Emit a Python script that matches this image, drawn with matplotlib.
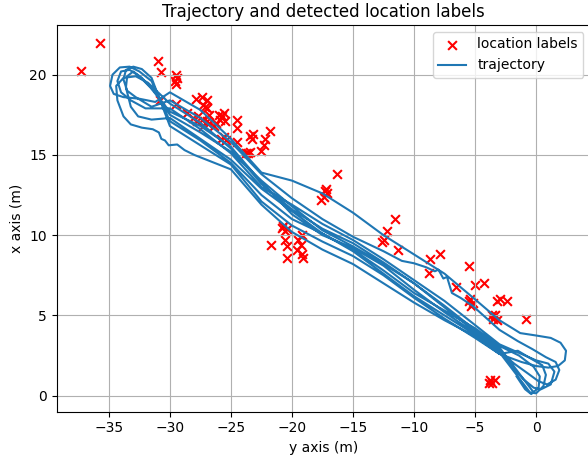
import matplotlib
matplotlib.use("Agg")
import matplotlib.pyplot as plt

# detected location labels (y, x) in metres
label_y = [-37.3, -35.7, -31.0, -30.7, -29.5, -29.6, -29.5, -29.4, -30.8, -29.5, -28.6,
           -27.9, -27.4, -27.0, -27.3, -27.0, -27.7, -27.4, -27.0, -26.9, -27.3, -27.8, -28.1, -26.4, -27.1, -26.8,
           -26.0, -25.6, -25.9, -25.5, -26.2, -25.7,
           -24.5, -24.5, -24.5, -25.6, -25.8, -25.4,
           -23.4, -23.2, -23.3, -23.6, -23.8, -23.4,
           -22.3, -22.5, -22.2, -21.8,
           -17.3, -17.4, -17.2, -17.6, -17.1, -16.3,
           -20.8, -20.6, -20.7, -20.4, -21.7, -20.6, -20.4, -20.4,
           -19.5, -19.3, -19.6, -19.2, -19.1, -19.2,
           -12.5, -12.6, -12.2, -11.6, -11.3,
           -8.7, -7.9, -8.8,
           -5.5, -6.6, -5.0, -4.3, -5.4, -5.2, -5.3, -5.5,
           -2.95, -2.4, -3.2, -3.4, -3.5, -3.2, -3.6, -0.8,
           -3.8, -3.6, -3.9, -3.4]
label_x = [20.2, 22.0, 20.85, 20.15, 20.0, 19.6, 19.4, 19.8, 18.4, 18.2, 17.6,
           18.5, 18.6, 18.4, 18.1, 17.9, 17.4, 17.2, 17.1, 16.9, 16.8, 17.1, 17.3, 16.8, 18.0, 17.5,
           17.5, 17.6, 17.2, 17.1, 17.0, 17.4,
           17.2, 16.7, 15.8, 16.1, 16.0, 15.9,
           16.2, 16.3, 16.0, 15.15, 15.1, 15.2,
           15.6, 15.25, 16.0, 16.5,
           12.75, 12.4, 12.9, 12.2, 12.6, 13.8,
           10.46, 10.25, 10.6, 10.4, 9.36, 9.7, 9.3, 8.6,
           9.7, 9.4, 9.1, 8.8, 8.6, 10.0,
           9.73, 9.6, 10.25, 11.0, 9.1,
           8.5, 8.85, 7.65,
           8.05, 6.75, 6.9, 7.0, 6.0, 5.8, 5.6, 5.9,
           6.0, 5.9, 5.9, 5.04, 4.8, 4.7, 5.0, 4.8,
           0.98, 0.78, 0.8, 1.0]

# trajectory: passes along the corridor (x values at band_y)
band_y = [-30, -27.5, -25, -22.5, -20, -17.5, -15, -12.5, -10, -7.5, -5, -3]
line1_x = [18.9, 17.8, 16.0, 13.9, 13.4, 12.6, 11.4, 10.0, 8.8, 7.6, 6.0, 4.7]
line3_x = [18.2, 17.0, 15.4, 13.2, 11.6, 10.4, 9.5, 8.3, 7.0, 5.6, 4.1, 3.0]
line4_x = [17.9, 16.6, 15.1, 13.0, 11.9, 10.7, 9.7, 8.5, 7.2, 5.9, 4.4, 3.2]
line5_x = [17.5, 16.4, 15.2, 13.4, 11.8, 10.3, 9.3, 8.2, 7.0, 5.5, 4.0, 2.9]
line6_x = [17.7, 16.8, 15.5, 13.3, 11.3, 10.0, 9.2, 8.1, 6.6, 5.2, 3.9, 2.8]
line7_x = [17.3, 16.0, 14.7, 12.9, 11.5, 10.1, 9.1, 7.8, 6.4, 5.3, 4.2, 3.1]
line8_x = [17.1, 15.9, 14.5, 12.5, 11.0, 10.1, 9.0, 7.6, 6.2, 5.0, 3.8, 2.7]
line9_x = [16.8, 15.6, 14.4, 12.1, 10.6, 9.6, 8.7, 7.5, 6.1, 4.8, 3.6, 2.6]
line10_y = [-28.0, -25, -22.5, -20, -17.5, -15, -12.5, -10, -7.5, -5, -3]
line10_x = [15.0, 14.1, 11.9, 10.2, 9.1, 8.2, 7.0, 5.8, 4.7, 3.7, 2.6]
# line with the jagged part near y = -8
line2_y = [-30, -27.5, -25, -22.5, -20, -17.5, -15, -12.5, -11, -10, -9, -8.3, -8.0, -7.6, -7.3, -6.9, -6.2, -5.2, -3]
line2_x = [18.4, 17.3, 15.8, 13.8, 12.3, 11.0, 9.9, 9.0, 8.4, 8.25, 8.0, 7.75, 7.85, 7.3, 7.4, 6.4, 6.1, 5.6, 4.1]

# turning loops at the far end (y < -30)
p1_y = [-31.5, -32.5, -33.3, -34.1, -34.7, -34.9, -34.6, -33.8, -32.5, -31.2]
p1_x = [19.6, 20.2, 20.5, 20.45, 20.0, 19.3, 18.8, 18.6, 18.5, 18.3]
p2_y = [-31.5, -32.3, -33.0, -33.6, -33.8, -33.5, -32.8, -31.5]
p2_x = [19.8, 20.35, 20.5, 20.3, 19.7, 19.0, 18.6, 18.0]
p3_y = [-31.8, -32.8, -33.8, -34.4, -34.3, -33.8, -33.2, -32.3, -31.4, -30.9, -30.7, -30.4, -30.1, -29.4, -28.8]
p3_x = [19.5, 19.9, 19.8, 19.3, 18.4, 17.4, 16.9, 16.7, 16.6, 16.4, 16.0, 15.9, 15.6, 15.65, 15.3]
p4_y = [-31.6, -32.5, -33.3, -34.0, -34.3, -34.0, -33.2, -32.0]
p4_x = [19.2, 19.9, 20.3, 20.2, 19.6, 18.9, 18.4, 17.9]
p5_y = [-31.3, -32.3, -33.0, -33.5, -33.6, -33.2, -32.6, -31.5]
p5_x = [19.0, 19.8, 20.2, 19.9, 19.2, 18.0, 17.4, 17.2]

# turning loops at the start (near y = 0)
r1_y = [-1.3, 0.0, 1.2, 2.0, 2.45, 2.35, 1.8, 1.0, 0.0, -1.2]
r1_x = [3.9, 3.75, 3.6, 3.3, 2.8, 2.2, 1.85, 1.75, 1.85, 2.1]
r2_y = [-1.5, -0.3, 0.8, 1.6, 1.9, 1.6, 0.9, 0.2, -0.7, -1.8]
r2_x = [3.4, 2.9, 2.4, 2.1, 1.6, 1.0, 0.7, 0.9, 1.4, 2.0]
r3_y = [-1.5, -0.4, 0.5, 0.8, 0.6, 0.0, -0.5, -1.0, -1.8]
r3_x = [2.8, 2.3, 1.9, 1.3, 0.6, 0.15, 0.2, 0.7, 1.5]
r4_y = [-1.2, 0.0, 1.0, 1.5, 1.2, 0.4, -0.2, -1.0, -2.0]
r4_x = [2.6, 2.2, 2.0, 1.5, 0.7, 0.4, 0.5, 1.0, 1.8]
r5_y = [-1.4, -0.2, 0.3, 0.2, -0.4, -0.9, -1.6]
r5_x = [2.5, 1.8, 1.2, 0.5, 0.1, 0.4, 1.2]
start_y = [-0.3, -1.5]
start_x = [0.3, 1.5]

# put the laps together in driving order
traj_y, traj_x = list(start_y), list(start_x)
laps = [
    (line3_x, p3_y, p3_x, line10_y, line10_x, r3_y, r3_x),
    (line8_x, p1_y, p1_x, band_y, line1_x, r1_y, r1_x),
    (line9_x, p2_y, p2_x, line2_y, line2_x, r2_y, r2_x),
    (line6_x, p4_y, p4_x, band_y, line4_x, r4_y, r4_x),
    (line5_x, p5_y, p5_x, band_y, line7_x, r5_y, r5_x),
]
for out_x, py, px, back_y, back_x, ry, rx in laps:
    traj_y += band_y[::-1] + py + back_y + ry
    traj_x += out_x[::-1] + px + back_x + rx

fig = plt.figure(figsize=(5.88, 4.61), dpi=100)
ax = fig.add_axes([0.0961, 0.107, 0.9078, 0.8388])

ax.scatter(label_y, label_x, marker='x', color='red', s=40, label='location labels')
ax.plot(traj_y, traj_x, color='#1f77b4', lw=1.5, label='trajectory')

ax.set_title("Trajectory and detected location labels")
ax.set_xlabel("y axis (m)")
ax.set_ylabel("x axis (m)")
ax.grid(True)
ax.legend(loc='upper right')

fig.savefig("out.png", dpi=100)
